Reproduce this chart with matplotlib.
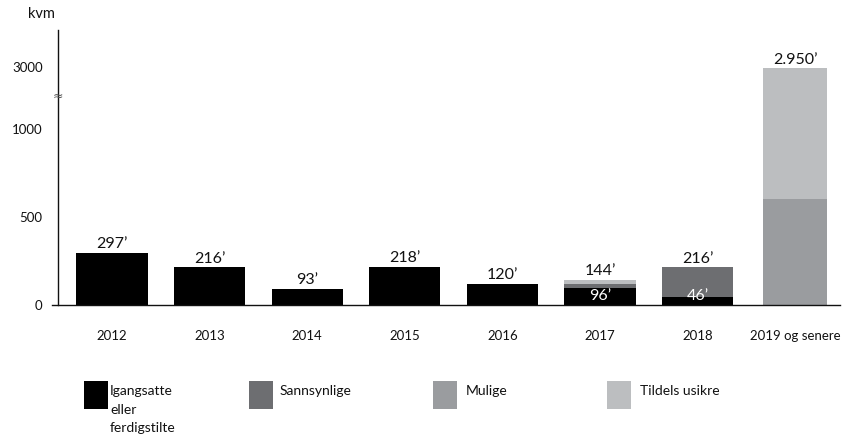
import numpy as np
import matplotlib
matplotlib.use("Agg")
import matplotlib.pyplot as plt
from matplotlib.patches import Rectangle

plt.rcParams['font.family'] = ['Lato', 'DejaVu Sans']

# Data (kvm, thousands)
years = ["2012", "2013", "2014", "2015", "2016", "2017", "2018", "2019 og senere"]
igangsatte = [297, 216, 93, 218, 120, 96, 46, 0]
sannsynlige = [0, 0, 0, 0, 0, 26, 170, 0]
mulige = [0, 0, 0, 0, 0, 0, 0, 600]
tildels_usikre = [0, 0, 0, 0, 0, 22, 0, 2350]
total_labels = ["297\u2019", "216\u2019", "93\u2019", "218\u2019", "120\u2019", "144\u2019", "216\u2019", "2.950\u2019"]
inner_labels = {5: "96\u2019", 6: "46\u2019"}
y_ticks = [0, 500, 1000, 3000]

series = [
    ("Igangsatte\neller\nferdigstilte", igangsatte, "#000000"),
    ("Sannsynlige", sannsynlige, "#6d6e71"),
    ("Mulige", mulige, "#9a9c9f"),
    ("Tildels usikre", tildels_usikre, "#bcbec0"),
]

# Broken axis: linear up to 1000, compressed above
BREAK = 1000.0
K = 0.177


def fwd(v):
    v = np.asarray(v, dtype=float)
    return np.where(v <= BREAK, v, BREAK + (v - BREAK) * K)


def inv(u):
    u = np.asarray(u, dtype=float)
    return np.where(u <= BREAK, u, BREAK + (u - BREAK) / K)


fig = plt.figure(figsize=(8.49, 4.43), dpi=100)
ax = fig.add_axes([52 / 849, 1 - 305 / 443, 788 / 849, 275 / 443])
ax.set_yscale('function', functions=(fwd, inv))

x = np.arange(len(years), dtype=float)
widths = [0.73] * 7 + [0.66]

bottom = np.zeros(len(years))
for name, vals, col in series:
    vals = np.array(vals, dtype=float)
    ax.bar(x, vals, width=widths, bottom=bottom, color=col, linewidth=0, zorder=2)
    bottom += vals

totals = bottom
for xi, tot, lab in zip(x, totals, total_labels):
    ax.annotate(lab, (xi, tot), xytext=(0, 1), textcoords='offset points',
                ha='center', va='bottom', fontsize=11.5, color='#111111')

for i, lab in inner_labels.items():
    ax.annotate(lab, (x[i], 0), xytext=(0, 1.5), textcoords='offset points',
                ha='center', va='bottom', fontsize=11.5, color='white', zorder=3)

ax.set_xlim(-0.615, 7.46)
ax.set_ylim(0, 4175)
ax.set_yticks(y_ticks)
ax.set_yticklabels([str(t) for t in y_ticks])
ax.set_xticks(x)
ax.set_xticklabels(years)
ax.tick_params(axis='both', length=0, labelsize=9.5, colors='#111111')
ax.tick_params(axis='x', pad=18)
ax.tick_params(axis='y', pad=11)

for s in ['top', 'right']:
    ax.spines[s].set_visible(False)
ax.spines['left'].set_position(('axes', 6 / 788))
ax.spines['left'].set_color('#111111')
ax.spines['bottom'].set_color('#111111')
ax.spines['left'].set_linewidth(1.0)
ax.spines['bottom'].set_linewidth(1.0)

# Axis break mark
ax.annotate("\u2248", (6 / 788, 2050), xycoords=('axes fraction', 'data'),
            ha='center', va='center', fontsize=9, color='#555555',
            family=['DejaVu Sans'])

fig.text(28 / 849, 1 - 14 / 443, "kvm", fontsize=10.5, ha='left', va='center', color='#111111')

# Legend
leg_items = [(84, 110), (249, 280), (433, 466), (607, 640)]
for (bx, tx), (name, _, col) in zip(leg_items, series):
    fig.patches.append(Rectangle((bx / 849, 1 - 409 / 443), 24 / 849, 28 / 443,
                                 transform=fig.transFigure, color=col, linewidth=0))
    fig.text(tx / 849, 1 - 385 / 443, name, fontsize=10, ha='left', va='top',
             linespacing=1.65, color='#111111')

fig.savefig("out.png", dpi=100)
